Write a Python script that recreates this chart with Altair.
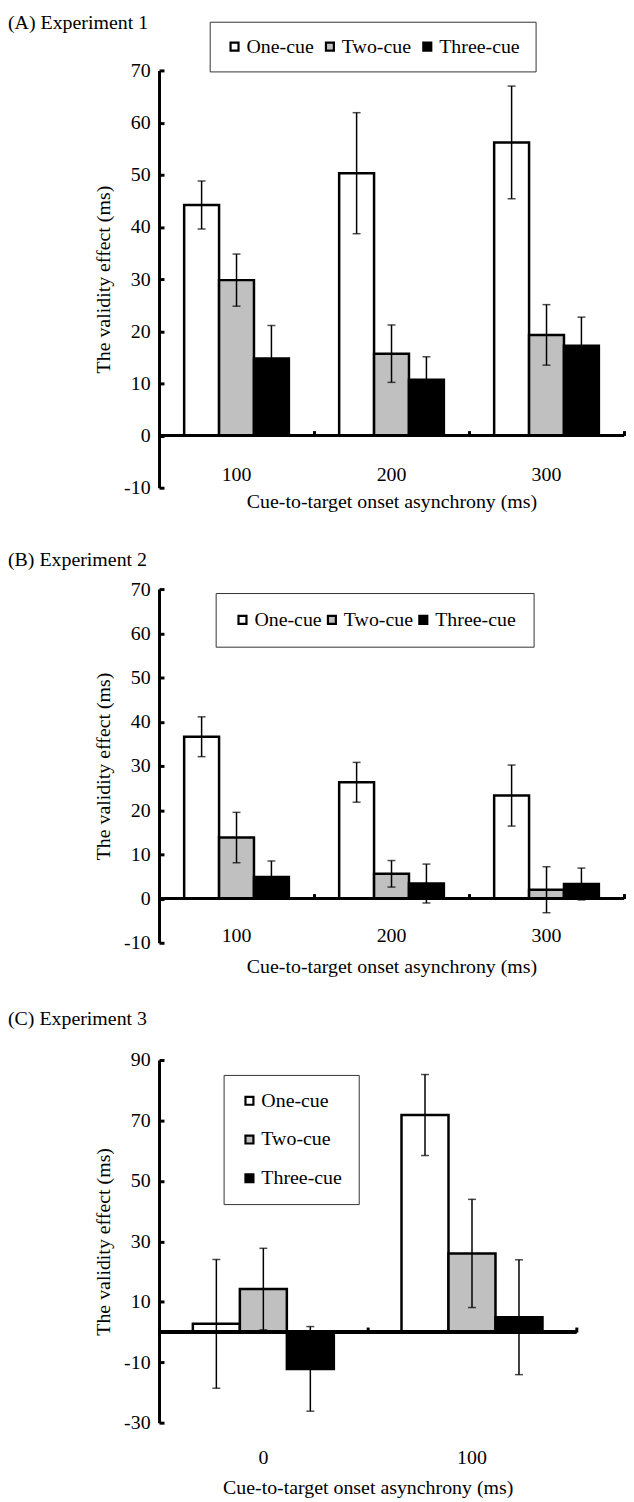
import altair as alt
import pandas as pd

FONT = "Liberation Serif"
FS = 20

CUES = ["One-cue", "Two-cue", "Three-cue"]
FILLS = ["white", "#c0c0c0", "black"]

# Panel A (Experiment 1)
A_SOA = ["100", "200", "300"]
A_ONE = [44.2, 50.3, 56.2]
A_ONE_ERR = [4.6, 11.6, 10.8]
A_TWO = [29.8, 15.7, 19.3]
A_TWO_ERR = [5.0, 5.5, 5.8]
A_THREE = [14.8, 10.7, 17.2]
A_THREE_ERR = [6.3, 4.4, 5.5]
A_TICKS = [-10, 0, 10, 20, 30, 40, 50, 60, 70]

# Panel B (Experiment 2)
B_SOA = ["100", "200", "300"]
B_ONE = [36.6, 26.3, 23.3]
B_ONE_ERR = [4.5, 4.5, 6.9]
B_TWO = [13.8, 5.6, 2.0]
B_TWO_ERR = [5.7, 3.0, 5.2]
B_THREE = [4.9, 3.4, 3.3]
B_THREE_ERR = [3.6, 4.4, 3.6]
B_TICKS = [-10, 0, 10, 20, 30, 40, 50, 60, 70]

# Panel C (Experiment 3)
C_SOA = ["0", "100"]
C_ONE = [2.7, 71.8]
C_ONE_ERR = [21.3, 13.4]
C_TWO = [14.2, 26.0]
C_TWO_ERR = [13.5, 17.9]
C_THREE = [-12.2, 4.9]
C_THREE_ERR = [14.0, 19.0]
C_TICKS = [-30, -10, 10, 30, 50, 70, 90]


def panel(title, soa, one, one_e, two, two_e, three, three_e, ticks,
          width, height, xoffset, xlabpad, xtitlepad, title_offset, leg):
    rows = []
    for i, s in enumerate(soa):
        for cue, v, e in zip(CUES, (one[i], two[i], three[i]),
                             (one_e[i], two_e[i], three_e[i])):
            rows.append({"soa": s, "cue": cue, "value": v,
                         "lo": v - e, "hi": v + e})
    df = pd.DataFrame(rows)
    ymin, ymax = ticks[0], ticks[-1]
    zero_from_top = height * ymax / (ymax - ymin)

    xscale = alt.Scale(domain=soa, paddingInner=0, paddingOuter=0)
    xoff = alt.XOffset("cue:N", sort=CUES,
                       scale=alt.Scale(domain=CUES, paddingInner=0, paddingOuter=0.72))
    yscale = alt.Scale(domain=[ymin, ymax], nice=False, zero=False)
    base = alt.Chart(df)

    bars = base.mark_bar(stroke="black", strokeWidth=2.5).encode(
        x=alt.X("soa:N", scale=xscale, sort=soa,
                axis=alt.Axis(title="Cue-to-target onset asynchrony (ms)",
                              orient="bottom", domain=False, ticks=False, tickSize=0,
                              labelAngle=0, offset=xoffset, labelPadding=xlabpad,
                              titlePadding=xtitlepad)),
        xOffset=xoff,
        y=alt.Y("value:Q", scale=yscale,
                axis=alt.Axis(title="The validity effect (ms)", orient="left",
                              values=ticks, ticks=False, tickSize=0, grid=False,
                              domainWidth=3, labelPadding=9, titlePadding=10,
                              labelExpr="replace(datum.label, '\u2212', '-')")),
        y2=alt.datum(0),
        color=alt.Color("cue:N", scale=alt.Scale(domain=CUES, range=FILLS),
                        legend=alt.Legend(title=None, orient="none",
                                          legendX=leg["x"], legendY=leg["y"],
                                          direction=leg["dir"], columns=leg["cols"],
                                          strokeColor="#333333", padding=leg["pad"],
                                          symbolType="square", symbolSize=64,
                                          symbolStrokeColor="black", symbolStrokeWidth=2.2,
                                          labelFont=FONT, labelFontSize=FS,
                                          labelColor="black", labelOffset=2,
                                          columnPadding=leg["colpad"],
                                          rowPadding=leg["rowpad"])),
    )

    err = base.mark_rule(color="black", strokeWidth=1.5).encode(
        x=alt.X("soa:N", scale=xscale, sort=soa,
                axis=alt.Axis(orient="top", offset=-zero_from_top, domain=False,
                              labels=False, ticks=True, tickBand="extent",
                              tickSize=5, tickWidth=3, tickColor="black", title=None)),
        xOffset=xoff,
        y=alt.Y("lo:Q", scale=yscale,
                axis=alt.Axis(orient="right", offset=-width, domain=False,
                              labels=False, ticks=True, tickSize=5, tickWidth=3,
                              tickColor="black", values=ticks, title=None, grid=False)),
        y2="hi:Q",
    )
    cap_lo = base.mark_tick(color="black", thickness=1.5, size=8, orient="horizontal").encode(
        x=alt.X("soa:N", scale=xscale, sort=soa, axis=None),
        xOffset=xoff,
        y=alt.Y("lo:Q", scale=yscale, axis=None),
    )
    cap_hi = base.mark_tick(color="black", thickness=1.5, size=8, orient="horizontal").encode(
        x=alt.X("soa:N", scale=xscale, sort=soa, axis=None),
        xOffset=xoff,
        y=alt.Y("hi:Q", scale=yscale, axis=None),
    )
    zero = base.mark_rule(color="black", strokeWidth=3).encode(
        y=alt.Y(datum=0, scale=yscale, axis=None))

    return alt.layer(bars, err, cap_lo, cap_hi, zero).resolve_axis(
        x="independent", y="independent"
    ).properties(
        width=width, height=height,
        title=alt.Title(text=title, anchor="start", frame="group", dx=-152,
                        font=FONT, fontSize=FS, fontWeight="normal", color="black",
                        offset=title_offset),
    )


pA = panel("(A) Experiment 1", A_SOA, A_ONE, A_ONE_ERR, A_TWO, A_TWO_ERR,
           A_THREE, A_THREE_ERR, A_TICKS, 468, 420, -23, 0, 7, -12,
           {"x": 51, "y": -49, "dir": "horizontal", "cols": 3, "pad": 15,
            "colpad": 6, "rowpad": 0})
pB = panel("(B) Experiment 2", B_SOA, B_ONE, B_ONE_ERR, B_TWO, B_TWO_ERR,
           B_THREE, B_THREE_ERR, B_TICKS, 468, 356, -17, 0, 11, 9,
           {"x": 57, "y": 4, "dir": "horizontal", "cols": 3, "pad": 17,
            "colpad": 0, "rowpad": 0})
pC = panel("(C) Experiment 3", C_SOA, C_ONE, C_ONE_ERR, C_TWO, C_TWO_ERR,
           C_THREE, C_THREE_ERR, C_TICKS, 420, 365, 0, 25, 10, 21,
           {"x": 65, "y": 15, "dir": "vertical", "cols": 1, "pad": 16,
            "colpad": 10, "rowpad": 19})

RES = dict(x="independent", y="independent", color="independent", xOffset="independent")

top = alt.vconcat(pA, pB, spacing=39).resolve_scale(**RES).resolve_legend(color="independent")

chart = alt.vconcat(top, pC, spacing=33).resolve_scale(**RES).resolve_legend(
    color="independent"
).properties(
    padding=0
).configure(background="white").configure_view(stroke=None).configure_axis(
    labelFont=FONT, labelFontSize=FS, labelColor="black",
    titleFont=FONT, titleFontSize=FS, titleColor="black", titleFontWeight="normal",
    domainColor="black",
)

chart.save("out.html", embed_options={"renderer": "svg", "actions": False})
